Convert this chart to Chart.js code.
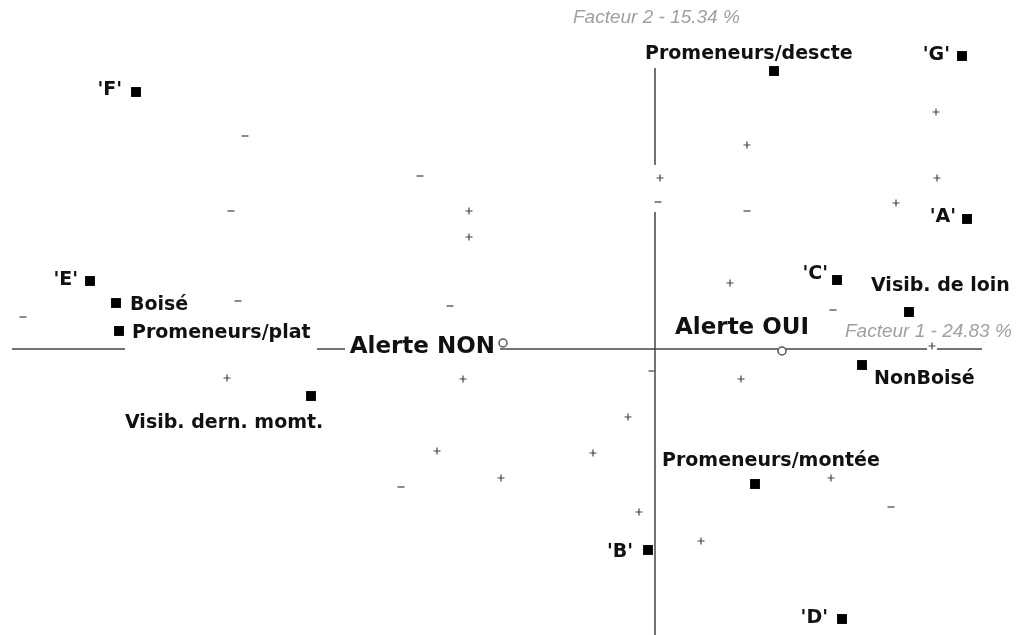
<!DOCTYPE html>
<html>
<head>
<meta charset="utf-8">
<script src="https://cdn.jsdelivr.net/npm/chart.js@4.4.0/dist/chart.umd.min.js"></script>
<style>
  body { margin: 0; background: #fff; }
  #wrap { width: 1019px; height: 635px; }
</style>
</head>
<body>
<div id="wrap"><canvas id="caChart"></canvas></div>
<script>
// modalities (black squares)
const modNames = ["'F'", "'E'", 'Boisé', 'Promeneurs/plat', 'Visib. dern. momt.', 'Promeneurs/descte', "'G'", "'A'", "'C'", 'Visib. de loin', 'NonBoisé', 'Promeneurs/montée', "'B'", "'D'"];
const modF1 = [-2.595, -2.825, -2.695, -2.68, -1.72, 0.595, 1.535, 1.56, 0.91, 1.27, 1.035, 0.5, -0.035, 0.935];
const modF2 = [1.285, 0.34, 0.23, 0.09, -0.235, 1.39, 1.465, 0.65, 0.345, 0.185, -0.08, -0.675, -1.005, -1.35];

// groups (hollow circles)
const groupNames = ['Alerte NON', 'Alerte OUI'];
const groupF1 = [-0.76, 0.635];
const groupF2 = [0.03, -0.01];

// individuals, alerte = oui (+)
const plusF1 = [-0.93, -0.93, -2.14, -0.96, -1.09, -0.77, -0.31, -0.135, -0.08, 0.23, 0.43, 0.46, 1.405, 1.41, 1.205, 0.375, 0.88, 0.025, 1.385];
const plusF2 = [0.69, 0.56, -0.145, -0.15, -0.51, -0.645, -0.52, -0.34, -0.815, -0.96, -0.15, 1.02, 1.185, 0.855, 0.73, 0.33, -0.645, 0.855, 0.015];

// individuals, alerte = non (-)
const minusF1 = [-2.05, -1.175, -2.12, -2.085, -3.16, -1.025, -1.27, 0.46, 0.89, 1.18, -0.015, 0.015];
const minusF2 = [1.065, 0.865, 0.69, 0.24, 0.16, 0.215, -0.69, 0.69, 0.195, -0.79, -0.11, 0.735];

const axisTitles = ['Facteur 1 - 24.83 %', 'Facteur 2 - 15.34 %'];

// label placement: [textAlign, dx, dy] in pixels from the mark
const modLabelPos = [
  ['right', -14, -2], ['right', -12, -1], ['left', 14, 2], ['left', 13, 2],
  ['left', -186, 27], ['left', -129, -17], ['right', -12, -1], ['right', -11, -2],
  ['right', -9, -6], ['left', -38, -26], ['left', 12, 14], ['left', -93, -23],
  ['right', -15, 2], ['right', -14, -1]
];
const groupLabelPos = [['right', -8, 4], ['left', -107, -23]];

// axis line pieces (gaps where the original hid them under labels)
const hAxisPieces = [[-3.215, -2.65], [-1.69, -1.55], [-0.775, 1.36], [1.41, 1.635]];
const vAxisPieces = [[1.405, 0.92], [0.685, -1.45]];

function toPoints(xs, ys) {
  return xs.map((x, i) => ({ x: x, y: ys[i] }));
}

const caPlugin = {
  id: 'caPlugin',
  beforeDatasetsDraw(chart) {
    const ctx = chart.ctx;
    const sx = chart.scales.x, sy = chart.scales.y;
    ctx.save();
    ctx.strokeStyle = '#444';
    ctx.lineWidth = 1.5;
    const y0 = sy.getPixelForValue(0), x0 = sx.getPixelForValue(0);
    hAxisPieces.forEach(p => {
      ctx.beginPath();
      ctx.moveTo(sx.getPixelForValue(p[0]), y0);
      ctx.lineTo(sx.getPixelForValue(p[1]), y0);
      ctx.stroke();
    });
    vAxisPieces.forEach(p => {
      ctx.beginPath();
      ctx.moveTo(x0, sy.getPixelForValue(p[0]));
      ctx.lineTo(x0, sy.getPixelForValue(p[1]));
      ctx.stroke();
    });
    // axis titles
    ctx.fillStyle = '#a0a0a0';
    ctx.font = 'italic 19px "Liberation Sans", Arial, sans-serif';
    ctx.textAlign = 'left';
    ctx.textBaseline = 'middle';
    ctx.fillText(axisTitles[0], sx.getPixelForValue(0.95), sy.getPixelForValue(0.085));
    ctx.fillText(axisTitles[1], sx.getPixelForValue(-0.41), sy.getPixelForValue(1.655));
    ctx.restore();
  },
  afterDatasetsDraw(chart) {
    const ctx = chart.ctx;
    ctx.save();
    ctx.fillStyle = '#111';
    ctx.textBaseline = 'middle';
    ctx.font = 'bold 19px "DejaVu Sans", Verdana, sans-serif';
    chart.getDatasetMeta(0).data.forEach((pt, i) => {
      const pos = modLabelPos[i];
      ctx.textAlign = pos[0];
      ctx.fillText(modNames[i], pt.x + pos[1], pt.y + pos[2]);
    });
    ctx.font = 'bold 23px "DejaVu Sans", Verdana, sans-serif';
    chart.getDatasetMeta(1).data.forEach((pt, i) => {
      const pos = groupLabelPos[i];
      ctx.textAlign = pos[0];
      ctx.fillText(groupNames[i], pt.x + pos[1], pt.y + pos[2]);
    });
    ctx.restore();
  }
};

const ctx = document.getElementById('caChart').getContext('2d');
new Chart(ctx, {
  type: 'scatter',
  data: {
    datasets: [
      {
        label: 'Modalités',
        data: toPoints(modF1, modF2),
        pointStyle: 'rect',
        pointRadius: 7,
        backgroundColor: '#000',
        borderWidth: 0,
        clip: false
      },
      {
        label: 'Alerte',
        data: toPoints(groupF1, groupF2),
        pointStyle: 'circle',
        pointRadius: 4,
        backgroundColor: '#fff',
        borderColor: '#555',
        borderWidth: 1.5,
        clip: false
      },
      {
        label: '+',
        data: toPoints(plusF1, plusF2),
        pointStyle: 'cross',
        pointRadius: 3.5,
        borderColor: '#444',
        borderWidth: 1.2,
        clip: false
      },
      {
        label: '-',
        data: toPoints(minusF1, minusF2),
        pointStyle: 'line',
        pointRadius: 3.5,
        borderColor: '#666',
        borderWidth: 1.5,
        clip: false
      }
    ]
  },
  options: {
    responsive: true,
    maintainAspectRatio: false,
    animation: false,
    layout: { padding: 0, autoPadding: false },
    plugins: {
      legend: { display: false },
      tooltip: { enabled: false }
    },
    scales: {
      x: { type: 'linear', min: -3.275, max: 1.82, display: false },
      y: { type: 'linear', min: -1.43, max: 1.745, display: false }
    }
  },
  plugins: [caPlugin]
});
</script>
</body>
</html>
